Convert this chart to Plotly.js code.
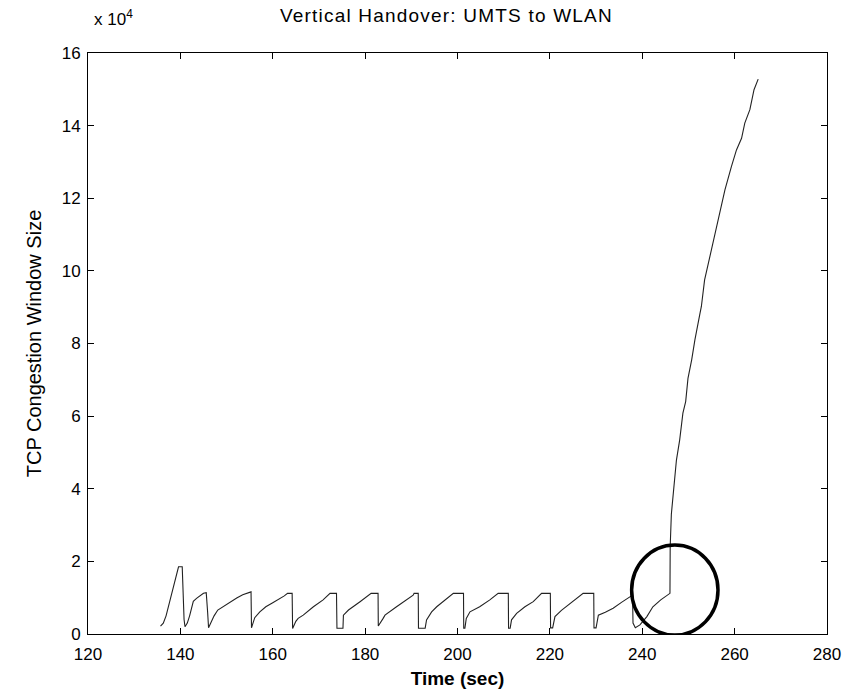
<!DOCTYPE html>
<html>
<head>
<meta charset="utf-8">
<script src="https://cdn.plot.ly/plotly-3.0.1.min.js"></script>
<style>
html,body{margin:0;padding:0;background:#fff;}
#chart{width:852px;height:693px;}
#chart .gtitle{letter-spacing:1.2px;}
</style>
</head>
<body>
<div id="chart"></div>
<script>
// Time (sec)
const timeSec = [
  135.7,136.3,136.9,137.4,137.9,138.4,138.9,139.3,139.6,140.4,140.5,140.6,140.8,141.0,
  141.5,142.0,142.4,142.8,143.5,144.3,145.0,145.6,145.8,145.9,
  146.1,146.6,147.3,148.1,149.5,150.8,152.2,153.5,154.5,155.3,
  155.4,156.1,157.2,158.5,160.0,161.1,162.5,163.2,164.2,
  164.3,165.0,165.5,166.6,168.8,170.9,172.4,173.8,
  173.9,175.2,175.3,176.4,178.9,181.0,181.3,182.8,
  182.85,183.9,184.3,186.8,188.3,190.4,190.6,191.5,
  191.55,193.0,193.3,194.4,195.5,196.9,199.1,201.3,
  201.35,201.6,201.9,202.7,204.8,207.0,208.5,208.8,211.0,
  211.05,211.4,211.7,212.8,214.6,216.4,217.5,218.2,220.1,
  220.15,220.6,221.1,222.5,224.5,226.5,227.2,229.5,
  229.55,230.0,230.5,232.0,233.7,235.5,237.3,237.9,
  238.0,238.5,239.5,241.0,242.3,244.0,246.0,
  246.05,246.3,246.7,247.4,248.1,248.8,249.4,249.9,250.7,251.4,252.5,252.8,
  253.5,254.6,255.7,256.8,257.9,259.3,260.4,261.5,262.2,263.3,264.2,265.1
];
// TCP congestion window size
const cwnd = [
  2200,3000,5000,7500,10000,12500,15000,17500,18500,18500,14000,9000,4000,2000,
  3000,5000,7500,9000,9800,10600,11200,11400,9000,6000,
  1700,3000,5000,6600,7800,8800,9900,10800,11300,11600,
  1700,4500,6100,7500,8600,9400,10500,11200,11200,
  1500,3500,4300,5200,7500,9400,11200,11200,
  1600,1600,5200,6600,8900,10700,11200,11200,
  2200,4300,5200,7500,8900,10700,11200,11200,
  1600,1600,3900,6100,7500,8900,11200,11200,
  1600,1600,4300,6100,7500,9400,10700,11200,11200,
  1600,1600,3900,5700,7500,8900,10300,11200,11200,
  1700,1700,4800,6500,8500,10700,11200,11200,
  1700,1700,5200,6000,7100,8700,10300,10700,
  3000,1700,2500,4800,7500,9400,11200,
  24000,33000,38800,47900,53400,60800,64000,70400,75500,81000,88300,90200,
  97500,103900,110400,115900,122300,128700,133300,136500,140700,144400,149900,152800
];
// Highlight circle (handover moment), data coordinates
const circleX = [237.7, 256.4];
const circleY = [-300, 24500];
// Axis ticks
const xTicks = [120,140,160,180,200,220,240,260,280];
const yTickVals = [0,20000,40000,60000,80000,100000,120000,140000,160000];
const yTickText = ['0','2','4','6','8','10','12','14','16'];

const font = 'Liberation Sans, Arial, sans-serif';
const trace = {
  x: timeSec, y: cwnd, type: 'scatter', mode: 'lines',
  line: {color: '#222', width: 1.1},
  hoverinfo: 'skip'
};
const layout = {
  width: 852, height: 693,
  margin: {l: 88, r: 25, t: 53, b: 59},
  paper_bgcolor: '#fff', plot_bgcolor: '#fff',
  showlegend: false,
  title: {text: 'Vertical Handover: UMTS to WLAN', font: {family: font, size: 19, color: '#000'},
          x: 0.485, xref: 'paper', xanchor: 'center', y: 0.978, yanchor: 'middle'},
  xaxis: {
    range: [120, 280], tickvals: xTicks, ticktext: xTicks.map(String),
    showgrid: false, zeroline: false, showline: true, linecolor: '#000', linewidth: 1,
    mirror: 'ticks', ticks: 'inside', ticklen: 6, tickcolor: '#000', ticklabelstandoff: 5,
    tickfont: {family: font, size: 17, color: '#000'},
    title: {text: '<b>Time (sec)</b>', font: {family: font, size: 19, color: '#000'}, standoff: 8}
  },
  yaxis: {
    range: [0, 160000], tickvals: yTickVals, ticktext: yTickText,
    showgrid: false, zeroline: false, showline: true, linecolor: '#000', linewidth: 1,
    mirror: 'ticks', ticks: 'inside', ticklen: 6, tickcolor: '#000', ticklabelstandoff: 3,
    tickfont: {family: font, size: 17, color: '#000'},
    title: {text: 'TCP Congestion Window Size', font: {family: font, size: 20, color: '#000'}, standoff: 14}
  },
  shapes: [{
    type: 'circle', xref: 'x', yref: 'y',
    x0: circleX[0], x1: circleX[1], y0: circleY[0], y1: circleY[1],
    line: {color: '#000', width: 3.5}
  }],
  annotations: [{
    text: 'x 10<sup>4</sup>', xref: 'paper', yref: 'paper', x: 0.005, y: 1.06,
    xanchor: 'left', yanchor: 'middle', showarrow: false,
    font: {family: font, size: 17, color: '#000'}
  }]
};
Plotly.newPlot('chart', [trace], layout, {displayModeBar: false, staticPlot: true});
</script>
</body>
</html>
